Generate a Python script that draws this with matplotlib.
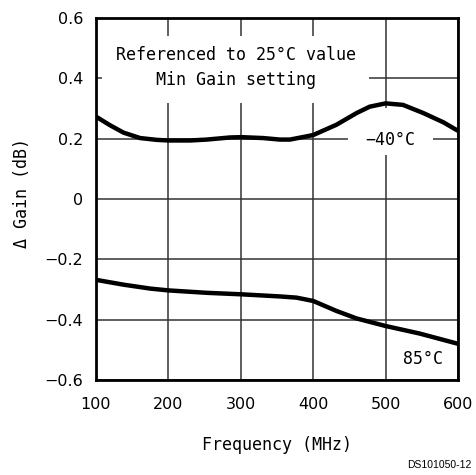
import matplotlib
matplotlib.use("Agg")
import matplotlib.pyplot as plt
from matplotlib.patches import Rectangle

freq_m40 = [100, 119, 138, 161, 184, 200, 230, 253, 285, 301, 331, 354, 368, 400,
            432, 460, 478, 500, 524, 552, 580, 600]
gain_m40 = [0.273, 0.245, 0.220, 0.202, 0.196, 0.194, 0.194, 0.197, 0.204, 0.205, 0.202, 0.197, 0.197, 0.212,
            0.246, 0.285, 0.306, 0.317, 0.312, 0.285, 0.254, 0.226]
freq_85 = [100, 138, 175, 200, 253, 301, 354, 377, 400, 432, 460, 500, 547, 600]
gain_85 = [-0.268, -0.284, -0.297, -0.303, -0.311, -0.316, -0.323, -0.327, -0.338, -0.371, -0.396, -0.421, -0.446, -0.480]

xticks = [100, 200, 300, 400, 500, 600]
yticks = [-0.6, -0.4, -0.2, 0, 0.2, 0.4, 0.6]
ytick_labels = ["\u22120.6", "\u22120.4", "\u22120.2", "0", "0.2", "0.4", "0.6"]

MONO = ['DejaVu Sans Mono', 'DejaVu Sans']
plt.rcParams['font.family'] = ['DejaVu Sans']

W, H = 476, 475
fig = plt.figure(figsize=(W/100, H/100), dpi=100)
ax = fig.add_axes([96/W, 1-380/H, (458-96)/W, (380-18)/H])
ax.set_xlim(100, 600)
ax.set_ylim(-0.6, 0.6)
ax.set_xticks(xticks)
ax.set_yticks(yticks)
ax.set_yticklabels(ytick_labels)
ax.grid(True, color='#333333', linewidth=1.1, zorder=1)
ax.set_axisbelow(True)
ax.tick_params(direction='in', length=0, labelsize=11.5)
ax.tick_params(axis='x', pad=12)
ax.tick_params(axis='y', pad=9)
for s in ax.spines.values():
    s.set_linewidth(2.0)
    s.set_zorder(6)

# white boxes behind labels (break the grid)
ax.add_patch(Rectangle((0.017, 0.765), 0.737, 0.185, transform=ax.transAxes,
                       facecolor='white', edgecolor='none', zorder=2))
ax.add_patch(Rectangle((448, 0.146), 117, 0.154, facecolor='white', edgecolor='none', zorder=2))

ax.plot(freq_m40, gain_m40, color='black', linewidth=3.2, solid_capstyle='butt', solid_joinstyle='round', zorder=4)
ax.plot(freq_85, gain_85, color='black', linewidth=3.2, solid_capstyle='butt', solid_joinstyle='round', zorder=4)

ax.text(0.387, 0.898, "Referenced to 25\u00b0C value", transform=ax.transAxes, ha='center', va='center',
        fontsize=12, family=MONO, zorder=5)
ax.text(0.387, 0.829, "Min Gain setting", transform=ax.transAxes, ha='center', va='center',
        fontsize=12, family=MONO, zorder=5)
ax.text(506, 0.197, "\u221240\u00b0C", ha='center', va='center', fontsize=12, family=MONO, zorder=5)
ax.text(552, -0.53, "85\u00b0C", ha='center', va='center', fontsize=12, family=MONO, zorder=5)

fig.text(277/W, 1-445/H, "Frequency (MHz)", ha='center', va='center', fontsize=12, family=MONO)
fig.text(22/W, 1-193/H, "\u0394 Gain (dB)", ha='center', va='center', rotation=90, fontsize=12, family=MONO)
fig.text(472/W, 1-465/H, "DS101050-12", ha='right', va='center', fontsize=7.5, family='Liberation Sans')

fig.savefig("out.png", dpi=100)
